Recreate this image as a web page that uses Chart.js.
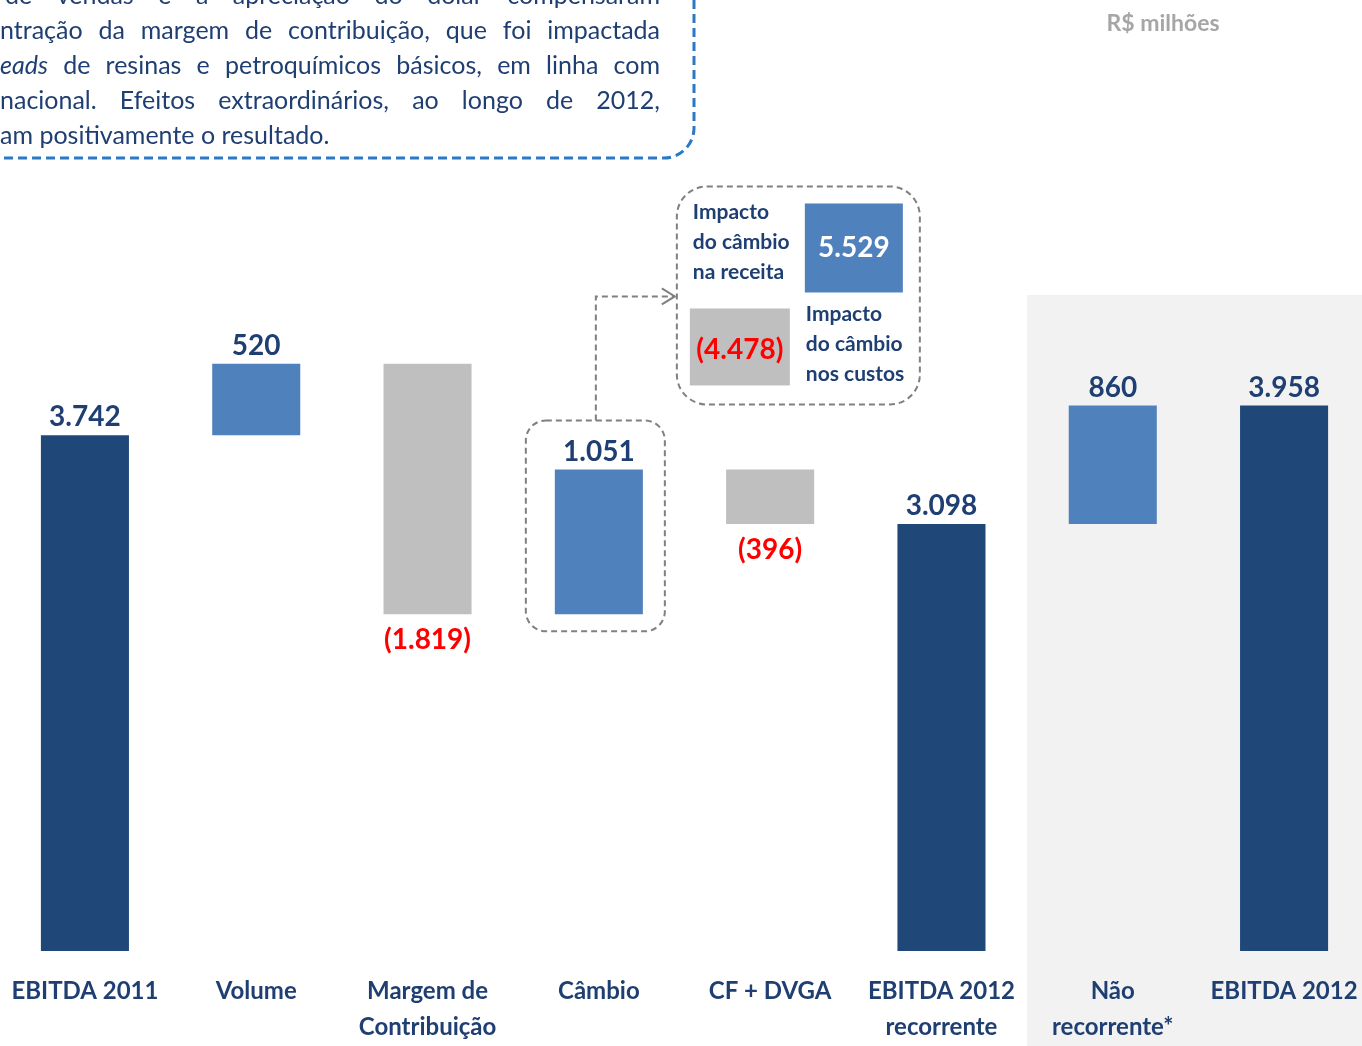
<!DOCTYPE html>
<html>
<head>
<meta charset="utf-8">
<script src="https://cdn.jsdelivr.net/npm/chart.js@4/dist/chart.umd.min.js"></script>
<style>
  html, body { margin: 0; padding: 0; background: #fff; overflow: hidden; }
  #wrap { position: relative; width: 1362px; height: 1046px; overflow: hidden; }
  canvas { position: absolute; left: -10px; top: 0; }
</style>
</head>
<body>
<div id="wrap"><canvas id="bridge" width="1389" height="1069"></canvas></div>
<script>
// data
const categories = ["EBITDA 2011", "Volume", ["Margem de", "Contribuição"], "Câmbio", "CF + DVGA",
  ["EBITDA 2012", "recorrente"], ["Não", "recorrente*"], "EBITDA 2012"];
const steps = [3742, 520, -1819, 1051, -396, 3098, 860, 3958];
const isTotal = [true, false, false, false, false, true, false, true];
const fxLabels = [["Impacto", "do câmbio", "na receita"], ["Impacto", "do câmbio", "nos custos"]];
const fxValues = [5529, -4478];
const unitLabel = "R$ milhões";
const noteLines = [
  "de vendas e a apreciação do dólar compensaram",
  "ntração da margem de contribuição, que foi impactada",
  "eads de resinas e petroquímicos básicos, em linha com",
  "nacional. Efeitos extraordinários, ao longo de 2012,",
  "am positivamente o resultado."
];
const noteItalic = ["eads"];

const NAVY = "#1F4778";
const BLUE = "#4F81BD";
const GREY = "#BFBFBF";
const TEXT = "#1F3F73";
const FONT = "Lato";
const SHIFT = 10; // canvas sits 10px left of the page

// build floating ranges
let running = 0;
const ranges = steps.map((v, i) => {
  if (isTotal[i]) { running = v; return [0, v]; }
  const start = running;
  running += v;
  return [start, running];
});
const colors = steps.map((v, i) => isTotal[i] ? NAVY : (v >= 0 ? BLUE : GREY));

const fmt = n => Math.abs(n).toLocaleString("pt-BR");

const panelPlugin = {
  id: "panel",
  beforeDraw(chart) {
    const { ctx, chartArea, scales: { x } } = chart;
    const left = (x.getPixelForValue(5) + x.getPixelForValue(6)) / 2;
    ctx.save();
    ctx.fillStyle = "#F2F2F2";
    ctx.fillRect(left, chartArea.top, chart.width - left, chart.height - chartArea.top);
    ctx.restore();
  }
};

const labelPlugin = {
  id: "valueLabels",
  afterDatasetsDraw(chart) {
    const { ctx } = chart;
    const meta = chart.getDatasetMeta(0);
    ctx.save();
    ctx.font = "bold 28px " + FONT;
    ctx.textAlign = "center";
    ctx.textBaseline = "middle";
    meta.data.forEach((bar, i) => {
      const top = Math.min(bar.y, bar.base);
      const bottom = Math.max(bar.y, bar.base);
      if (steps[i] >= 0) {
        ctx.fillStyle = TEXT;
        ctx.fillText(fmt(steps[i]), bar.x, top - 18);
      } else {
        ctx.fillStyle = "#FF0000";
        ctx.fillText("(" + fmt(steps[i]) + ")", bar.x, bottom + 26);
      }
    });
    ctx.restore();
  }
};

function roundBox(ctx, x0, y0, x1, y1, r) {
  ctx.beginPath();
  ctx.roundRect(x0, y0, x1 - x0, y1 - y0, r);
  ctx.stroke();
}

const calloutPlugin = {
  id: "callout",
  afterDraw(chart) {
    const { ctx } = chart;
    const bar = chart.getDatasetMeta(0).data[3];
    const cx = bar.x;
    const bt = Math.min(bar.y, bar.base);
    const bb = Math.max(bar.y, bar.base);
    ctx.save();
    ctx.strokeStyle = "#808080";
    ctx.lineWidth = 2;
    ctx.setLineDash([6, 4]);
    // box round Câmbio bar
    roundBox(ctx, cx - 73, bt - 49, cx + 66, bb + 17, 20);
    // connector
    ctx.beginPath();
    ctx.moveTo(cx - 3, bt - 49);
    ctx.lineTo(cx - 3, bt - 173);
    ctx.lineTo(cx + 75, bt - 173);
    ctx.stroke();
    ctx.setLineDash([]);
    ctx.beginPath();
    ctx.moveTo(cx + 63, bt - 181);
    ctx.lineTo(cx + 76, bt - 173);
    ctx.lineTo(cx + 63, bt - 165);
    ctx.stroke();
    ctx.setLineDash([6, 4]);
    // big callout box
    roundBox(ctx, cx + 78, bt - 283, cx + 321, bt - 65, 30);
    ctx.setLineDash([]);

    // revenue / cost impact
    ctx.fillStyle = BLUE;
    ctx.fillRect(cx + 206, bt - 266, 98, 89);
    ctx.fillStyle = GREY;
    ctx.fillRect(cx + 91, bt - 161, 100, 77);
    ctx.textBaseline = "middle";
    ctx.textAlign = "center";
    ctx.font = "bold 28px " + FONT;
    ctx.fillStyle = "#FFFFFF";
    ctx.fillText(fmt(fxValues[0]), cx + 255, bt - 222);
    ctx.fillStyle = "#FF0000";
    ctx.fillText("(" + fmt(fxValues[1]) + ")", cx + 141, bt - 120);
    ctx.textAlign = "left";
    ctx.font = "bold 21px " + FONT;
    ctx.fillStyle = TEXT;
    fxLabels[0].forEach((t, i) => ctx.fillText(t, cx + 94, bt - 257 + i * 30));
    fxLabels[1].forEach((t, i) => ctx.fillText(t, cx + 207, bt - 155 + i * 30));

    // page-fixed items below, expressed in page pixels
    ctx.translate(SHIFT, 0);

    // unit label
    ctx.textAlign = "center";
    ctx.font = "bold 23px " + FONT;
    ctx.fillStyle = "#A6A6A6";
    ctx.fillText(unitLabel, 1163, 24);

    // note box at top (cut by page edge)
    ctx.strokeStyle = "#2A78C6";
    ctx.lineWidth = 3;
    ctx.setLineDash([9, 5]);
    ctx.beginPath();
    ctx.moveTo(694, 0);
    ctx.lineTo(694, 128);
    ctx.arcTo(694, 158, 664, 158, 30);
    ctx.lineTo(-SHIFT, 158);
    ctx.stroke();
    ctx.setLineDash([]);

    ctx.fillStyle = TEXT;
    ctx.textAlign = "left";
    noteLines.forEach((line, li) => {
      const words = line.split(" ");
      const y = -4 + li * 35;
      const fonts = words.map(w => (noteItalic.includes(w) ? "italic " : "") + "25px " + FONT);
      const widths = words.map((w, k) => { ctx.font = fonts[k]; return ctx.measureText(w).width; });
      const x0 = li === 0 ? 5 : 0;
      const total = widths.reduce((a, b) => a + b, 0);
      const last = li === noteLines.length - 1;
      ctx.font = "25px " + FONT;
      const gap = last ? ctx.measureText(" ").width : (660 - x0 - total) / (words.length - 1);
      let x = x0;
      words.forEach((w, k) => {
        ctx.font = fonts[k];
        ctx.fillText(w, x, y);
        x += widths[k] + gap;
      });
    });
    ctx.restore();
  }
};

new Chart(document.getElementById("bridge"), {
  type: "bar",
  data: {
    labels: categories,
    datasets: [{
      data: ranges,
      backgroundColor: colors,
      borderWidth: 0,
      barPercentage: 1,
      categoryPercentage: 0.514
    }]
  },
  options: {
    responsive: false,
    animation: false,
    devicePixelRatio: 1,
    layout: { padding: { top: 295, bottom: 2, left: 0, right: 0 } },
    plugins: { legend: { display: false }, tooltip: { enabled: false } },
    scales: {
      x: {
        grid: { display: false, drawTicks: false },
        border: { display: false },
        ticks: {
          color: TEXT,
          padding: 22,
          maxRotation: 0,
          autoSkip: false,
          font: { family: FONT, size: 24, weight: "bold", lineHeight: 1.5 }
        }
      },
      y: { display: false, min: 0, max: 4760 }
    }
  },
  plugins: [panelPlugin, labelPlugin, calloutPlugin]
});
</script>
</body>
</html>
